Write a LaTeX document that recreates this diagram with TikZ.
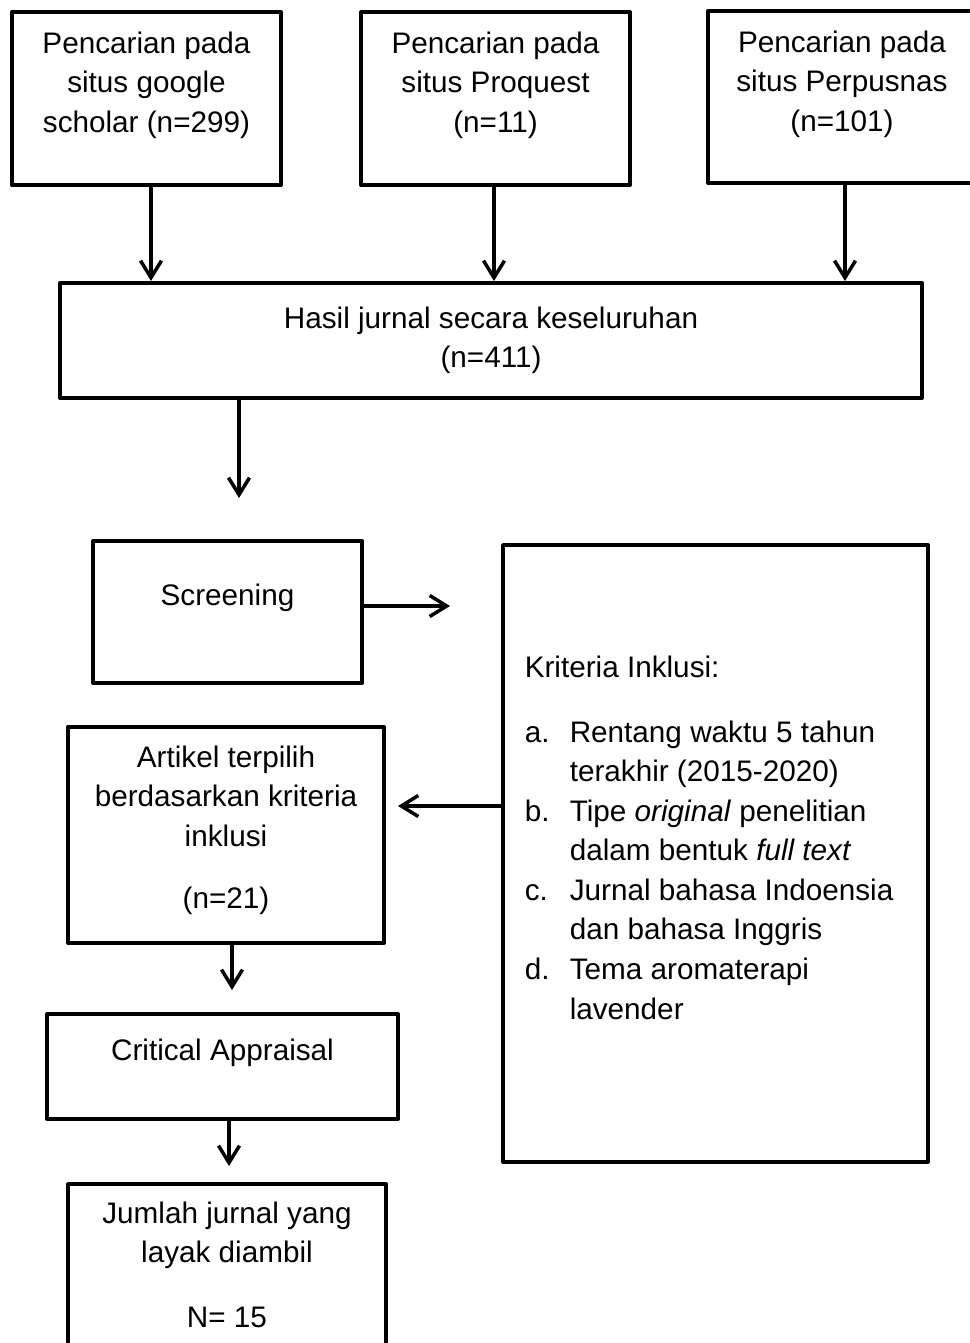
\documentclass[tikz,border=0pt]{standalone}
\usepackage{fontspec}
\setmainfont{Liberation Sans}
\usetikzlibrary{positioning}
\usetikzlibrary{arrows.meta}
\tikzstyle{every node}=[font=\fontsize{16.9pt}{22.5pt}\selectfont]
\tikzstyle{every path}=[line width=2pt,line join=round]
\tikzstyle{kotak}=[draw,line width=2.3pt,inner sep=0pt]
\tikzstyle{teks}=[align=center,inner sep=0pt]
\tikzstyle{panah}=[-{Straight Barb[length=0.34cm,width=0.42cm]}]
\begin{document}
\begin{tikzpicture}[x=0.02cm,y=-0.02cm]
\useasboundingbox (0,0) rectangle (970,1343);
%поиск
\node[kotak,minimum width=5.38cm,minimum height=3.46cm] (gs) at (146.5,98.5) {};
\node[kotak,minimum width=5.38cm,minimum height=3.46cm] (pq) at (495.5,98.5) {};
\node[kotak,minimum width=5.36cm,minimum height=3.44cm] (pn) at (842,97) {};
\node[teks,below=0.4cm of gs.north] {Pencarian pada\\situs google\\scholar (n=299)};
\node[teks,below=0.4cm of pq.north] {Pencarian pada\\situs Proquest\\(n=11)};
\node[teks,below=0.4cm of pn.north] {Pencarian pada\\situs Perpusnas\\(n=101)};
%итог
\node[kotak,minimum width=17.24cm,minimum height=2.3cm] (hasil) at (491,340.5) {};
\node[teks,below=0.48cm of hasil.north] {Hasil jurnal secara keseluruhan\\(n=411)};
\draw[panah] ([xshift=0.09cm]gs.south) -- ([xshift=0.09cm]gs.south |- hasil.north);
\draw[panah] ([xshift=-0.03cm]pq.south) -- ([xshift=-0.03cm]pq.south |- hasil.north);
\draw[panah] ([xshift=0.06cm]pn.south) -- ([xshift=0.06cm]pn.south |- hasil.north);
\coordinate (hs) at (239,498);
\draw[panah] (hasil.south -| hs) -- (hs);
%скрининг
\node[kotak,minimum width=5.38cm,minimum height=2.84cm] (scr) at (227.5,612) {};
\node[teks,below=0.86cm of scr.north] {Screening};
\coordinate (se) at (450,606);
\draw[panah] (scr.east |- se) -- (se);
%критерии
\node[kotak,minimum width=8.5cm,minimum height=12.34cm] (krit) at (715.5,853.5) {};
\node[align=left,inner sep=0pt,below right=2.22cm and 0.44cm of krit.north west]
{Kriteria Inklusi:\\[0.51cm]
\makebox[0.9cm][l]{a.}Rentang waktu 5 tahun\\
\hspace*{0.9cm}terakhir (2015-2020)\\
\makebox[0.9cm][l]{b.}Tipe \textit{original} penelitian\\
\hspace*{0.9cm}dalam bentuk \textit{full text}\\
\makebox[0.9cm][l]{c.}Jurnal bahasa Indoensia\\
\hspace*{0.9cm}dan bahasa Inggris\\
\makebox[0.9cm][l]{d.}Tema aromaterapi\\
\hspace*{0.9cm}lavender};
%отбор
\node[kotak,minimum width=6.32cm,minimum height=4.32cm] (art) at (226,835) {};
\node[teks,below=0.38cm of art.north] {Artikel terpilih\\berdasarkan kriteria\\inklusi\\[0.45cm](n=21)};
\coordinate (ke) at (398,806);
\draw[panah] (krit.west |- ke) -- (ke);
\node[kotak,minimum width=7.02cm,minimum height=2.1cm] (ca) at (222.5,1066.5) {};
\node[teks,below=0.5cm of ca.north] {Critical Appraisal};
\draw[panah,shorten >=0.44cm] ([xshift=0.12cm]art.south) -- ([xshift=0.12cm]art.south |- ca.north);
\node[kotak,minimum width=6.36cm,minimum height=4cm] (jml) at (227,1284) {};
\node[teks,below=0.36cm of jml.north] {Jumlah jurnal yang\\layak diambil\\[0.51cm]N= 15};
\draw[panah,shorten >=0.32cm] ([xshift=0.13cm]ca.south) -- ([xshift=0.13cm]ca.south |- jml.north);
\end{tikzpicture}
\end{document}
